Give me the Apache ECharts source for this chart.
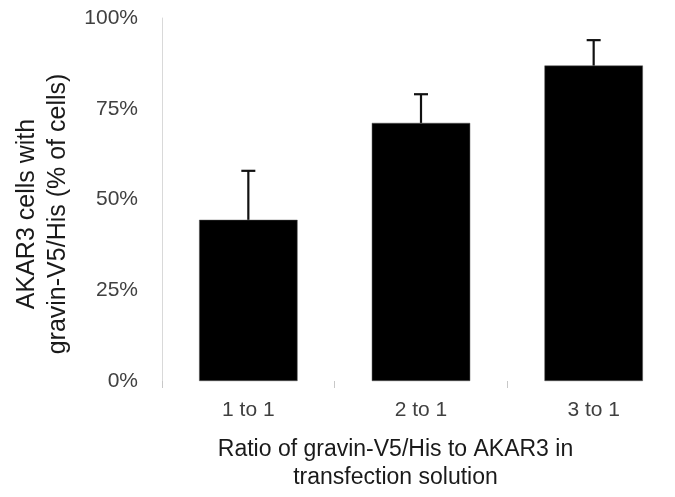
<!DOCTYPE html>
<html>
<head>
<meta charset="utf-8">
<script src="https://cdn.jsdelivr.net/npm/echarts@6/dist/echarts.min.js"></script>
<style>
html,body{margin:0;padding:0;background:#fff;}
#chart{width:675px;height:497px;}
</style>
</head>
<body>
<div id="chart"></div>
<script>
const categories = ['1 to 1', '2 to 1', '3 to 1'];
const means = [44.4, 71.1, 86.9];
const errors = [13.5, 7.9, 7.0];
const yTicks = [0, 25, 50, 75, 100];
const xTitle = 'Ratio of gravin-V5/His to AKAR3 in\ntransfection solution';
const yTitle = 'AKAR3 cells with\ngravin-V5/His (% of cells)';

const FONT = '"Liberation Sans", Arial, sans-serif';
const chart = echarts.init(document.getElementById('chart'), null, {renderer: 'canvas'});

const errData = categories.map((c, i) => [i, means[i], errors[i]]);

chart.setOption({
  animation: false,
  backgroundColor: '#ffffff',
  grid: {left: 162, right: -5, top: 18, bottom: 116, containLabel: false, outerBoundsMode: 'none'},
  xAxis: {
    type: 'category',
    data: categories,
    axisLine: {show: false},
    axisTick: {show: true, length: 7, lineStyle: {color: '#c8c8c8', width: 1}},
    axisLabel: {fontSize: 21, fontFamily: FONT, color: '#404040', margin: 19},
    splitLine: {show: false}
  },
  yAxis: {
    type: 'value',
    min: yTicks[0],
    max: yTicks[yTicks.length - 1],
    interval: yTicks[1] - yTicks[0],
    axisLine: {show: true, lineStyle: {color: '#d9d9d9', width: 1}},
    axisTick: {show: false},
    splitLine: {show: false},
    axisLabel: {formatter: '{value}%', fontSize: 21, fontFamily: FONT, color: '#404040', margin: 24}
  },
  graphic: [
    {
      type: 'text',
      x: 395.5, y: 436,
      style: {text: xTitle, fontSize: 23, fontFamily: FONT, fill: '#1a1a1a', align: 'center', verticalAlign: 'top', lineHeight: 28}
    },
    {
      type: 'text',
      x: 43, y: 214,
      rotation: Math.PI / 2,
      style: {text: yTitle, fontSize: 25, fontFamily: FONT, fill: '#1a1a1a', align: 'center', verticalAlign: 'middle', lineHeight: 31}
    }
  ],
  series: [
    {
      type: 'bar',
      data: means,
      barWidth: '57%',
      itemStyle: {color: '#000000', borderColor: '#555555', borderWidth: 0.5}
    },
    {
      type: 'custom',
      data: errData,
      z: 3,
      renderItem: function (params, api) {
        const xi = api.value(0);
        const v = api.value(1);
        const e = api.value(2);
        const base = api.coord([xi, v]);
        const top = api.coord([xi, v + e]);
        return {
          type: 'group',
          children: [
            {type: 'line', shape: {x1: base[0], y1: base[1], x2: top[0], y2: top[1]}, style: {stroke: '#111', lineWidth: 2.2}},
            {type: 'line', shape: {x1: top[0] - 7, y1: top[1], x2: top[0] + 7, y2: top[1]}, style: {stroke: '#111', lineWidth: 2.2}}
          ]
        };
      }
    }
  ]
});
</script>
</body>
</html>
